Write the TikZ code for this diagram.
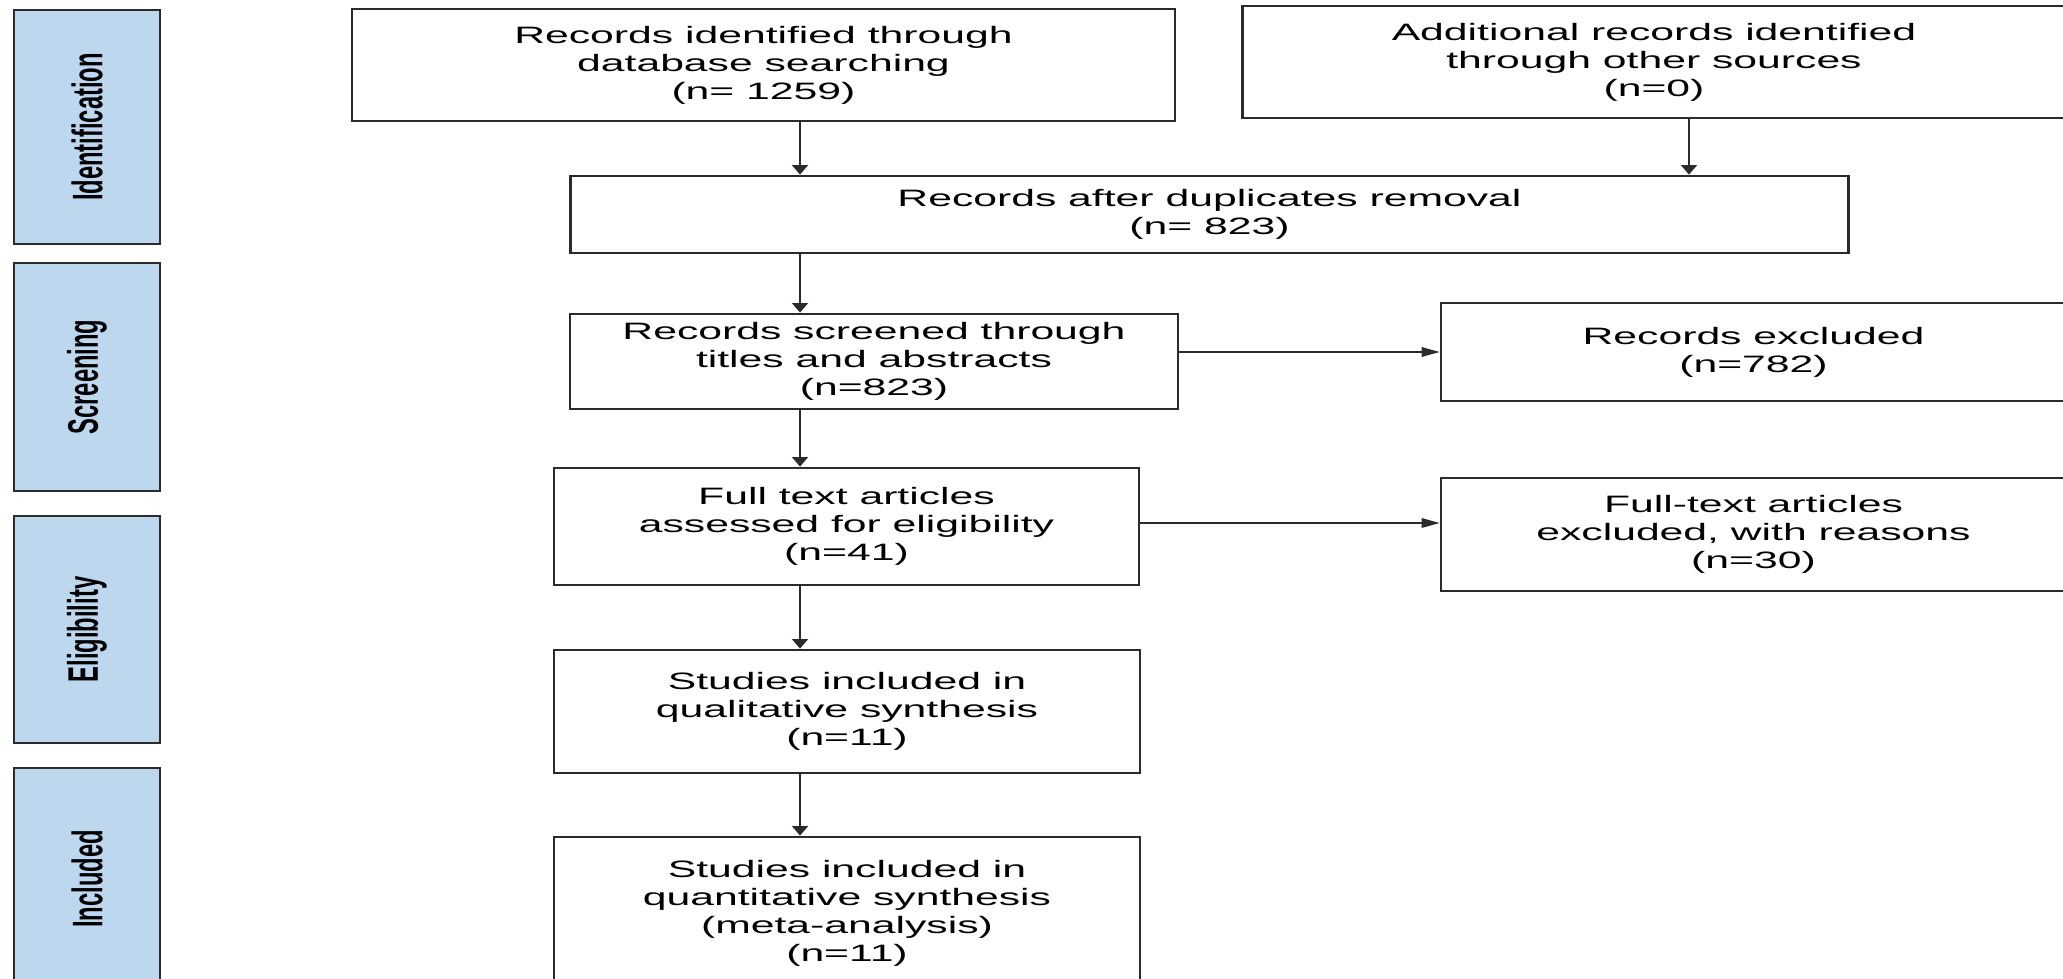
\documentclass[tikz,border=0pt]{standalone}
\usepackage{fontspec}
\setmainfont{Liberation Sans}
\newfontfamily\boxfont{Liberation Sans}[FakeStretch=1.8]
\newfontfamily\sidefont{Liberation Sans}[FakeStretch=0.556]
\usetikzlibrary{arrows.meta}
\definecolor{sideblue}{HTML}{BDD7EE}
\definecolor{edgegray}{HTML}{2B2B2B}

\begin{document}
\begin{tikzpicture}[x=0.02cm, y=-0.02cm,
        box/.style={draw=edgegray, line width=1.6pt, inner sep=0pt, align=center,
                    font=\boxfont\fontsize{13.5}{16}\selectfont},
        stage/.style={draw=edgegray, line width=1.6pt, fill=sideblue, inner sep=0pt,
                      rotate=90, minimum height=2.92cm,
                      font=\sidefont\bfseries\fontsize{24.3}{28}\selectfont},
        down/.style={-{Triangle[width=0.32cm,length=0.19cm]}, line width=0.8pt, edgegray},
        across/.style={-{Triangle[width=0.19cm,length=0.36cm]}, line width=0.8pt, edgegray}]
        \path[fill=white, use as bounding box] (0,0) rectangle (2063,979);
        \clip (0,0) rectangle (2063,979);

        %----------------  stages  ----------------
        \node[stage, minimum width=4.68cm] (ident) at (87,127) {Identification};
        \node[stage, minimum width=4.56cm] (screen) at (87,377) {Screening};
        \node[stage, minimum width=4.54cm] (elig) at (87,629.5) {Eligibility};
        \node[stage, minimum width=4.44cm] (incl) at (87,879) {Included};

        %----------------  boxes  ----------------
        \node[box, minimum width=16.46cm, minimum height=2.24cm] (db) at (763.5,65)
            {Records identified through\\database searching\\(n= 1259)};
        \node[box, minimum width=16.48cm, minimum height=2.24cm] (other) at (1654,62)
            {Additional records identified\\through other sources\\(n=0)};
        \node[box, minimum width=25.58cm, minimum height=1.54cm] (dedup) at (1209.5,214.5)
            {Records after duplicates removal\\(n= 823)};
        \node[box, minimum width=12.16cm, minimum height=1.9cm] (screened) at (874,361.5)
            {Records screened through\\titles and abstracts\\(n=823)};
        \node[box, minimum width=12.5cm, minimum height=1.96cm] (excl) at (1753.5,352)
            {Records excluded\\(n=782)};
        \node[box, minimum width=11.7cm, minimum height=2.34cm] (full) at (846.5,526.5)
            {Full text articles\\assessed for eligibility\\(n=41)};
        \node[box, minimum width=12.5cm, minimum height=2.26cm] (fullexcl) at (1753.5,534.5)
            {Full-text articles\\excluded, with reasons\\(n=30)};
        \node[box, minimum width=11.72cm, minimum height=2.46cm] (qual) at (847,711.5)
            {Studies included in\\qualitative synthesis\\(n=11)};
        \node[box, minimum width=11.72cm, minimum height=3.06cm] (quant) at (847,913.5)
            {Studies included in\\quantitative synthesis\\(meta-analysis)\\(n=11)};

        %----------------  arrows  ----------------
        \coordinate (spine) at (800,0);
        \coordinate (side) at (1689,0);
        \coordinate (fullout) at ([yshift=0.07cm]full.east);
        \path[down]
        (db.south -| spine) edge (dedup.north -| spine)
        (other.south -| side) edge (dedup.north -| side)
        (dedup.south -| spine) edge (screened.north -| spine)
        (screened.south -| spine) edge (full.north -| spine)
        (full.south -| spine) edge (qual.north -| spine)
        (qual.south -| spine) edge (quant.north -| spine);
        \path[across]
        (screened.east |- excl.west) edge (excl.west)
        (fullout) edge (fullexcl.west |- fullout);

\end{tikzpicture}
\end{document}
